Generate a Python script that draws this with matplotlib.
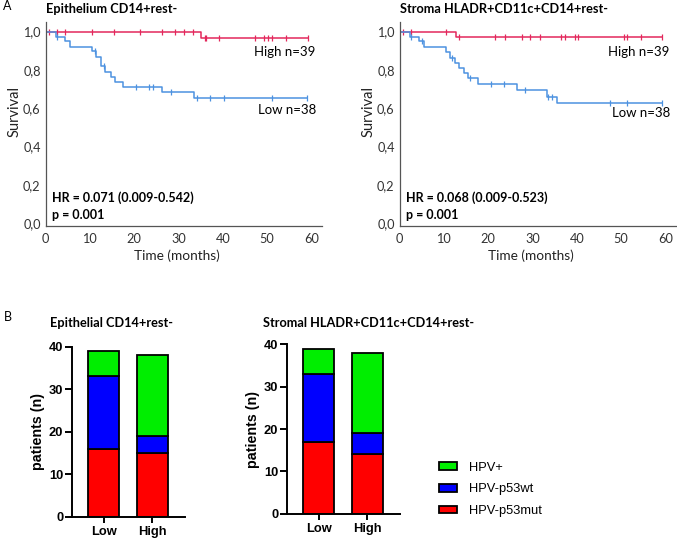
import numpy as np
import matplotlib.pyplot as plt
from matplotlib.patches import Patch

# Panel A: Kaplan-Meier, epithelium CD14+rest-
epi_high_t = [0, 35.1]
epi_high_s = [1.0, 0.964]
epi_high_cens = [0.75, 2.6, 4.5, 10.5, 15.4, 21.4, 26.3, 29.3, 31.2, 33.2,
                 35.9, 36.3, 39.1, 47.2, 49.3, 50.2, 51.0, 54.2, 59.2]
epi_low_t = [0, 2.3, 4.5, 5.5, 10.5, 11.5, 12.6, 13.5, 14.7, 15.6, 17.5, 26.3, 33.5]
epi_low_s = [1.0, 0.972, 0.951, 0.922, 0.896, 0.868, 0.821, 0.791, 0.765,
             0.739, 0.710, 0.682, 0.651]
epi_low_cens = [2.6, 11.1, 13.3, 20.5, 23.3, 24.3, 28.4, 34.2, 37.2, 40.2, 51.2, 59.1]

# Panel A: Kaplan-Meier, stroma HLADR+CD11c+CD14+rest-
str_high_t = [0, 12.7]
str_high_s = [1.0, 0.972]
str_high_cens = [0.7, 2.7, 10.6, 13.4, 21.6, 23.8, 27.6, 29.5, 31.6, 36.4,
                 37.4, 39.5, 40.3, 50.6, 51.4, 54.4, 59.3]
str_low_t = [0, 2.3, 4.5, 5.6, 10.6, 11.4, 12.5, 13.5, 14.6, 15.5, 17.6, 26.6, 33.3, 35.5]
str_low_s = [1.0, 0.974, 0.951, 0.920, 0.894, 0.861, 0.838, 0.810, 0.783,
             0.757, 0.725, 0.696, 0.661, 0.629]
str_low_cens = [2.7, 5.0, 11.8, 15.9, 20.7, 23.6, 28.3, 33.6, 34.4, 47.4, 51.4, 59.3]

surv_ticks = [0.0, 0.2, 0.4, 0.6, 0.8, 1.0]
surv_labels = ['0,0', '0,2', '0,4', '0,6', '0,8', '1,0']
time_ticks = [0, 10, 20, 30, 40, 50, 60]

# Panel B: stacked bars
groups = ['Low', 'High']
epi_mut = [16, 15]
epi_wt = [17, 4]
epi_pos = [6, 19]
str_mut = [17, 14]
str_wt = [16, 5]
str_pos = [6, 19]

RED_KM = '#e3285c'
BLUE_KM = '#4d92e0'
KM_FONT = ['Lato', 'DejaVu Sans']
BAR_FONT = ['Liberation Sans', 'DejaVu Sans']

fig = plt.figure(figsize=(6.77, 5.4), dpi=100)


def px_axes(x0, y0, x1, y1):
    # pixel box (top-left origin) -> axes
    return fig.add_axes([x0 / 677, 1 - y1 / 540, (x1 - x0) / 677, (y1 - y0) / 540])


def km_curve(ax, t, s, cens, color):
    end = max(cens)
    ax.step(list(t) + [end], list(s) + [s[-1]], where='post', color=color, lw=1.1)
    idx = np.searchsorted(t, cens, side='right') - 1
    ax.plot(cens, np.array(s)[idx], ls='none', marker='|', ms=4.5, mew=0.9, color=color)


def km_panel(ax, curves, hr, high_y, low_y):
    for t, s, cens, c in curves:
        km_curve(ax, t, s, cens, c)
    ax.set_xlim(0, 62.5)
    ax.set_ylim(-0.015, 1.05)
    ax.set_xticks(time_ticks)
    ax.set_yticks(surv_ticks)
    ax.set_yticklabels(surv_labels)
    ax.tick_params(length=0, labelsize=9.2, colors='#333333')
    ax.tick_params(axis='y', pad=3.5)
    ax.tick_params(axis='x', pad=5)
    for lab in ax.get_xticklabels() + ax.get_yticklabels():
        lab.set_family(KM_FONT)
    for sp in ['top', 'right']:
        ax.spines[sp].set_visible(False)
    for sp in ['left', 'bottom']:
        ax.spines[sp].set_color('#555555')
        ax.spines[sp].set_linewidth(0.9)
    ax.set_xlabel('Time (months)', family=KM_FONT, fontsize=9.8, color='#222222')
    ax.set_ylabel('Survival', family=KM_FONT, fontsize=10.5, color='#222222')
    ax.xaxis.set_label_coords(0.475, -0.115)
    ax.yaxis.set_label_coords(-0.088, 0.56)
    ax.text(61, high_y, 'High n=39', ha='right', va='center', fontsize=9.5, family=KM_FONT)
    ax.text(61, low_y, 'Low n=38', ha='right', va='center', fontsize=9.5, family=KM_FONT)
    ax.text(1.5, 0.135, hr, fontsize=9, fontweight='bold', family=KM_FONT, va='center')
    ax.text(1.5, 0.045, 'p = 0.001', fontsize=9, fontweight='bold', family=KM_FONT, va='center')


ax1 = px_axes(45.5, 22, 322.5, 226)
km_panel(ax1, [(epi_high_t, epi_high_s, epi_high_cens, RED_KM),
               (epi_low_t, epi_low_s, epi_low_cens, BLUE_KM)],
         'HR = 0.071 (0.009-0.542)', 0.895, 0.59)
ax2 = px_axes(399.5, 22, 676.5, 226)
km_panel(ax2, [(str_high_t, str_high_s, str_high_cens, RED_KM),
               (str_low_t, str_low_s, str_low_cens, BLUE_KM)],
         'HR = 0.068 (0.009-0.523)', 0.895, 0.575)

fig.text(46 / 677, 1 - 9 / 540, 'Epithelium CD14+rest-', fontsize=9.2, fontweight='bold',
         family=KM_FONT, va='center')
fig.text(400 / 677, 1 - 9 / 540, 'Stroma HLADR+CD11c+CD14+rest-', fontsize=9.2,
         fontweight='bold', family=KM_FONT, va='center')
fig.text(3 / 677, 1 - 6 / 540, 'A', fontsize=9, family=KM_FONT, va='center')
fig.text(4 / 677, 1 - 317 / 540, 'B', fontsize=9, family=KM_FONT, va='center')
fig.text(50 / 677, 1 - 323 / 540, 'Epithelial CD14+rest-', fontsize=9.2, fontweight='bold',
         family=KM_FONT, va='center')
fig.text(263 / 677, 1 - 323 / 540, 'Stromal HLADR+CD11c+CD14+rest-', fontsize=9.2,
         fontweight='bold', family=KM_FONT, va='center')

GREEN = '#00ee00'
BLUE = '#0000ff'
RED = '#ff0000'


def bar_panel(ax, mut, wt, pos):
    x = np.arange(len(groups))
    kw = dict(width=0.64, edgecolor='black', linewidth=1.3)
    ax.bar(x, mut, color=RED, **kw)
    ax.bar(x, wt, bottom=mut, color=BLUE, **kw)
    ax.bar(x, pos, bottom=np.array(mut) + np.array(wt), color=GREEN, **kw)
    ax.set_xlim(-0.663, 1.678)
    ax.set_ylim(0, 40)
    ax.set_yticks([0, 10, 20, 30, 40])
    ax.set_xticks(x)
    ax.set_xticklabels(groups)
    for sp in ['top', 'right']:
        ax.spines[sp].set_visible(False)
    for sp in ['left', 'bottom']:
        ax.spines[sp].set_linewidth(1.4)
    ax.tick_params(axis='y', length=5, width=1.4, labelsize=9.3, pad=1)
    ax.tick_params(axis='x', length=4, width=1.4, labelsize=9.3, pad=3)
    for lab in ax.get_xticklabels() + ax.get_yticklabels():
        lab.set_family(BAR_FONT)
        lab.set_fontweight('bold')
    ax.set_ylabel('patients (n)', family=BAR_FONT, fontweight='bold', fontsize=10.3, labelpad=3)


ax3 = px_axes(71.7, 346.7, 185, 516.7)
bar_panel(ax3, epi_mut, epi_wt, epi_pos)
ax4 = px_axes(286.7, 344.3, 400, 513.7)
bar_panel(ax4, str_mut, str_wt, str_pos)

handles = [Patch(facecolor=GREEN, edgecolor='black', lw=1.3, label='HPV+'),
           Patch(facecolor=BLUE, edgecolor='black', lw=1.3, label='HPV-p53wt'),
           Patch(facecolor=RED, edgecolor='black', lw=1.3, label='HPV-p53mut')]
fig.legend(handles=handles, loc='upper left', bbox_to_anchor=(427 / 677, 1 - 450 / 540),
           frameon=False, prop={'family': BAR_FONT, 'size': 9.3}, handlelength=1.4,
           handleheight=0.55, labelspacing=0.75, handletextpad=0.95)

fig.savefig('out.png', dpi=100)
